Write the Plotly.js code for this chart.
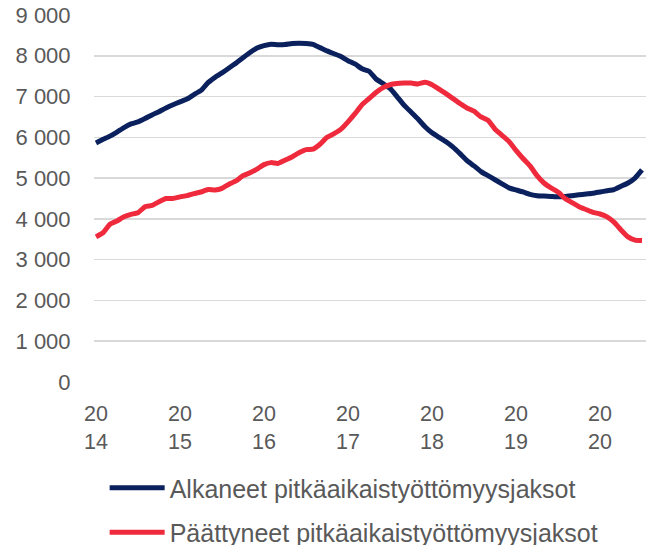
<!DOCTYPE html>
<html>
<head>
<meta charset="utf-8">
<script src="https://cdn.plot.ly/plotly-3.0.1.min.js"></script>
<style>
html,body{margin:0;padding:0;background:#fff;}
#chart{width:646px;height:545px;}
</style>
</head>
<body>
<div id="chart"></div>
<script>
// Monthly data, Jan 2014 .. Jul 2020
const months = [];
for (let i = 0; i < 79; i++) months.push(i);

const alkaneet = [
  5860, 5950, 6030, 6130, 6240, 6330, 6380, 6460, 6550, 6630, 6720, 6800,
  6870, 6940, 7050, 7150, 7340, 7470, 7580, 7700, 7820, 7950, 8080, 8190,
  8250, 8285, 8270, 8275, 8300, 8310, 8300, 8280, 8200, 8120, 8050, 7980,
  7880, 7800, 7680, 7620, 7430, 7320, 7200, 7000, 6790, 6620, 6450, 6260,
  6110, 6000, 5890, 5760, 5600, 5430, 5300, 5160, 5060, 4960, 4860, 4760,
  4710, 4660, 4600, 4570, 4560, 4550, 4540, 4550, 4570, 4590, 4610, 4630,
  4660, 4690, 4720, 4800, 4880, 5000, 5200
];

const paattyneet = [
  3560, 3660, 3870, 3950, 4050, 4110, 4150, 4300, 4330, 4420, 4500, 4500,
  4540, 4570, 4620, 4660, 4720, 4710, 4750, 4850, 4930, 5060, 5130, 5220,
  5330, 5380, 5360, 5440, 5520, 5620, 5700, 5710, 5830, 6000, 6090, 6200,
  6380, 6580, 6800, 6950, 7100, 7220, 7290, 7320, 7330, 7330, 7310, 7350,
  7290, 7180, 7070, 6950, 6830, 6720, 6640, 6500, 6420, 6200, 6050, 5900,
  5680, 5480, 5300, 5060, 4880, 4760, 4660, 4500, 4400, 4300, 4230, 4160,
  4120, 4050, 3920, 3730, 3560, 3480, 3470
];

const tickPositions = [0, 12, 24, 36, 48, 60, 72];
const tickLabels = ["20<br>14", "20<br>15", "20<br>16", "20<br>17", "20<br>18", "20<br>19", "20<br>20"];
const yTicks = [0, 1000, 2000, 3000, 4000, 5000, 6000, 7000, 8000, 9000];
const yTickLabels = ["0", "1 000", "2 000", "3 000", "4 000", "5 000", "6 000", "7 000", "8 000", "9 000"];

const seriesNames = ["Alkaneet pitkäaikaistyöttömyysjaksot", "Päättyneet pitkäaikaistyöttömyysjaksot"];

const traces = [
  {x: months, y: alkaneet, type: 'scatter', mode: 'lines', name: seriesNames[0],
   legendgroup: 'a', line: {color: '#0b215e', width: 5, shape: 'spline', smoothing: 0.4}},
  {x: months, y: paattyneet, type: 'scatter', mode: 'lines', name: seriesNames[1],
   legendgroup: 'b', line: {color: '#ee2a3c', width: 5, shape: 'spline', smoothing: 0.4}}
];

const layout = {
  width: 646, height: 545,
  margin: {l: 94, r: 0, t: 15, b: 163, autoexpand: false},
  paper_bgcolor: '#ffffff', plot_bgcolor: '#ffffff',
  font: {family: 'Liberation Sans, Arial, sans-serif', color: '#595959', size: 22},
  showlegend: true,
  legend: {
    orientation: 'v', xref: 'container', yref: 'container',
    x: 0.162, y: 0.1467, xanchor: 'left', yanchor: 'top',
    font: {size: 25, color: '#595959'},
    itemwidth: 55, traceorder: 'grouped', tracegroupgap: 9,
    bgcolor: 'rgba(0,0,0,0)'
  },
  xaxis: {
    range: [-0.286, 78.57], tickmode: 'array', tickvals: tickPositions, ticktext: tickLabels,
    showgrid: false, zeroline: false, showline: false,
    ticks: 'outside', ticklen: 12, tickcolor: 'rgba(0,0,0,0)',
    tickfont: {size: 21.5, color: '#595959'}, fixedrange: true
  },
  yaxis: {
    range: [0, 9000], tickmode: 'array', tickvals: yTicks, ticktext: yTickLabels,
    showgrid: true, gridcolor: '#d9d9d9', gridwidth: 1.5, zeroline: false, showline: false,
    ticks: 'outside', ticklen: 18, tickcolor: 'rgba(0,0,0,0)',
    tickfont: {size: 22, color: '#595959'}, fixedrange: true
  }
};

Plotly.newPlot('chart', traces, layout, {displayModeBar: false, staticPlot: true});
</script>
</body>
</html>
